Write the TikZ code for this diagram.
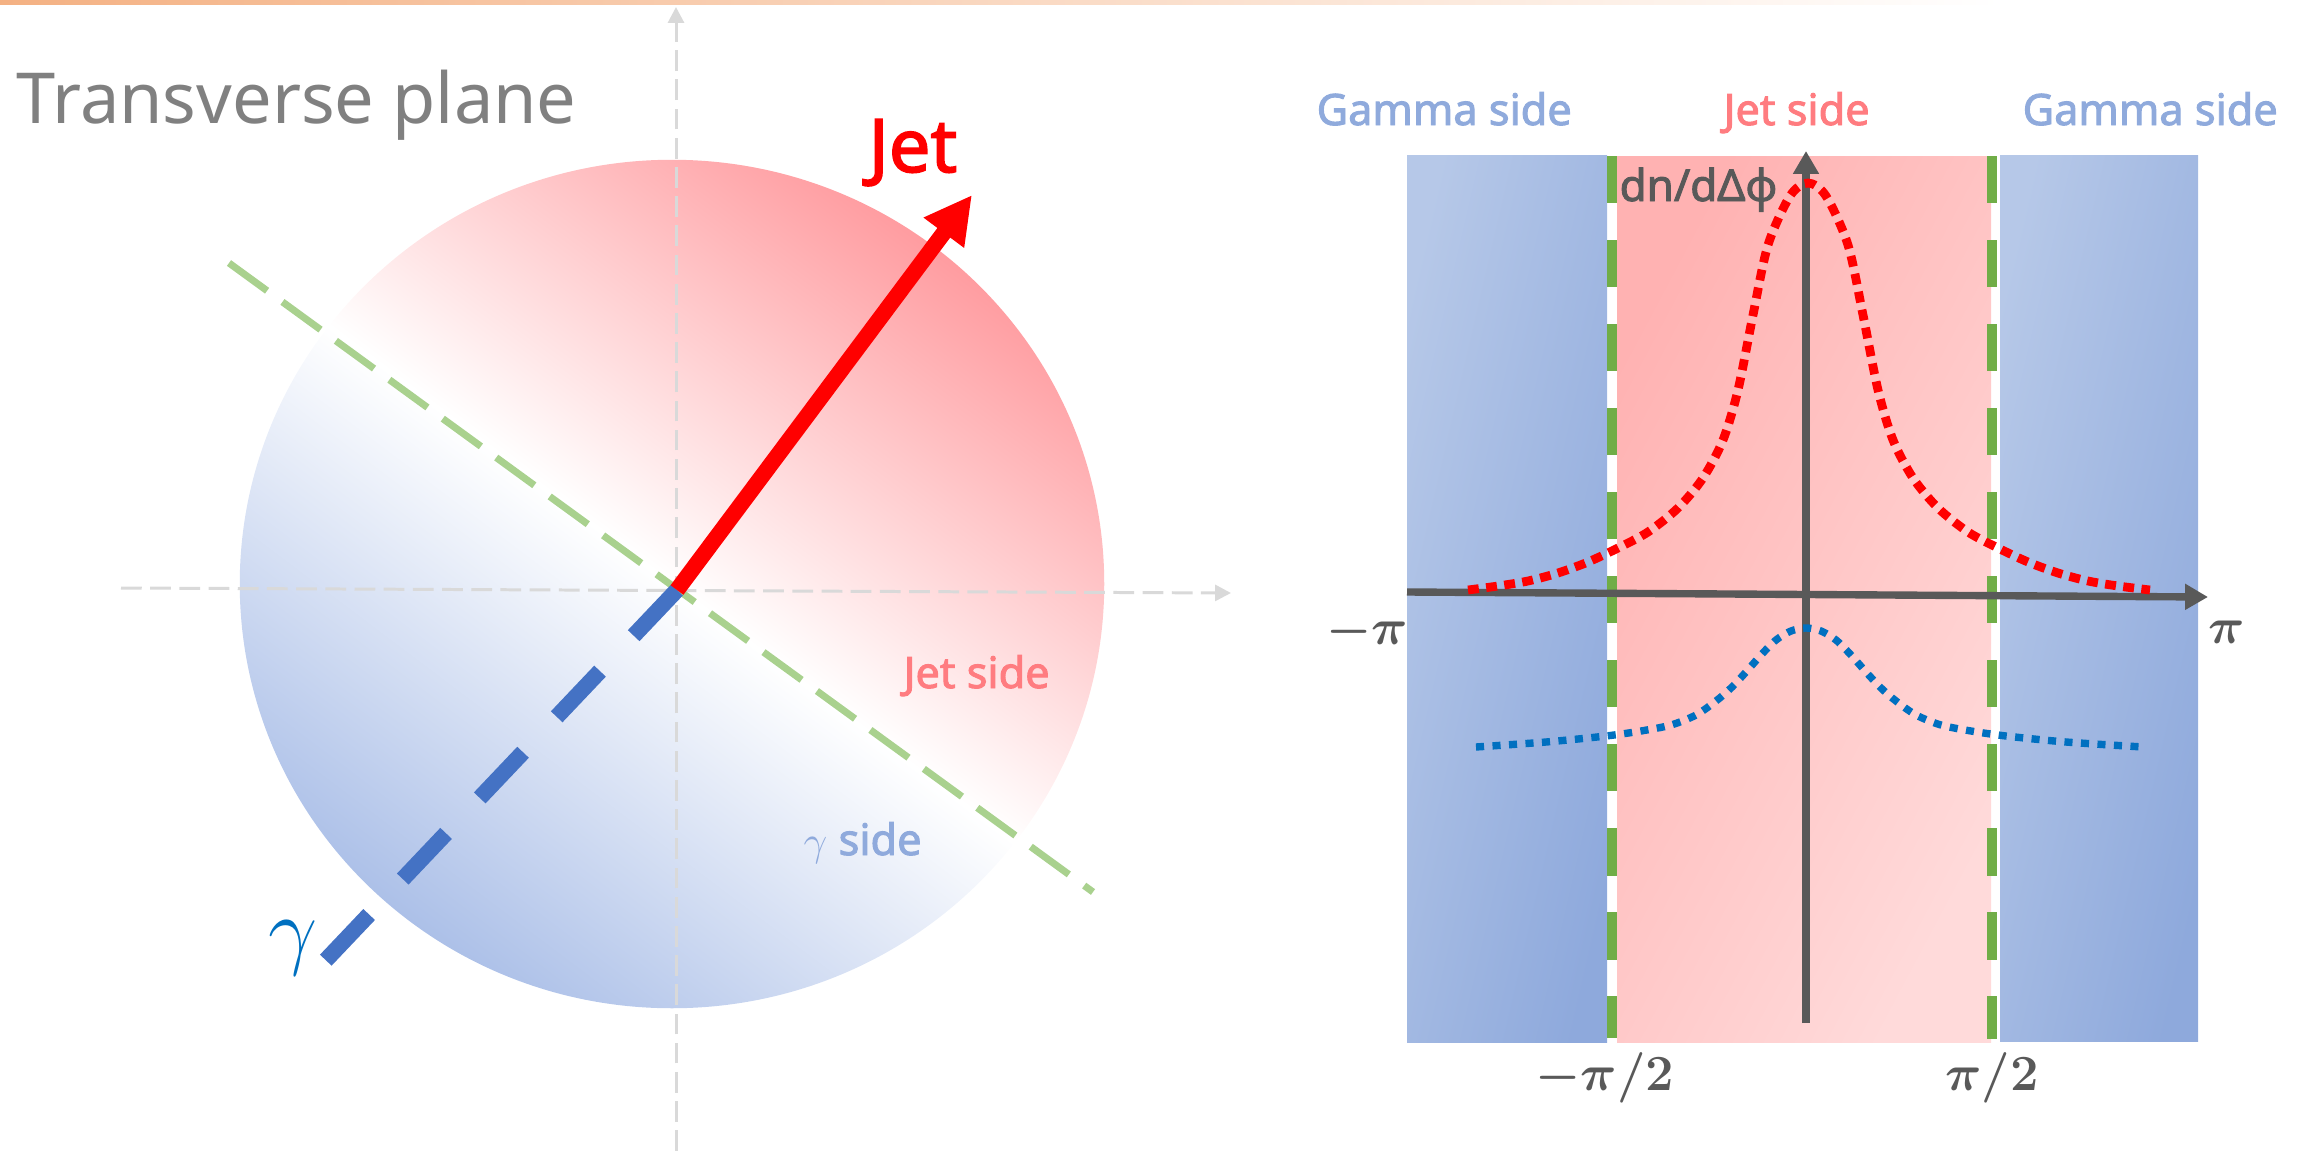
\documentclass[tikz,border=0pt]{standalone}
\usepackage{fontspec}
\setmainfont{Noto Sans}[AutoFakeBold=2.2]
\usepackage{amsmath}
\usetikzlibrary{arrows.meta, calc}
\definecolor{jetred}{RGB}{255,0,0}
\definecolor{jetpink}{RGB}{255,124,128}
\definecolor{jetdisc}{RGB}{255,156,160}
\definecolor{gamdisc}{RGB}{172,192,232}
\definecolor{gamblue}{RGB}{68,114,196}
\definecolor{gamlight}{RGB}{143,170,220}
\definecolor{gamdeep}{RGB}{0,112,192}
\definecolor{axisgray}{RGB}{217,217,217}
\definecolor{darkaxis}{RGB}{89,89,89}
\definecolor{titlegray}{RGB}{128,128,128}
\definecolor{cutgreen}{RGB}{169,209,142}
\definecolor{bandgreen}{RGB}{112,173,71}
\definecolor{topline}{RGB}{244,177,131}
\definecolor{sidebluel}{RGB}{182,200,232}
\definecolor{sidebluer}{RGB}{142,169,220}
\definecolor{jetbandl}{RGB}{255,178,178}
\definecolor{jetbandr}{RGB}{255,218,218}

\begin{document}
\begin{tikzpicture}[
    x=0.01cm, y=-0.01cm,
    txt/.style={inner sep=0pt, anchor=base west},
    title/.style={txt, text=titlegray, font=\fontsize{20}{24}\selectfont},
    side/.style={txt, font=\bfseries\fontsize{12.3}{15}\selectfont},
    pilabel/.style={inner sep=0pt, text=darkaxis, font=\fontsize{14}{17}\selectfont\boldmath},
    faintaxis/.style={draw=axisgray, line width=0.85pt, dash pattern=on 5.9pt off 2.4pt, -{Triangle[length=4.5pt, width=4.5pt]}},
    plotaxis/.style={draw=darkaxis, line width=2.1pt, -{Triangle[length=6.5pt, width=7pt]}},
    jetarrow/.style={draw=jetred, line width=4.55pt, -{Triangle[length=13.4pt, width=13.4pt]}},
    gammaline/.style={draw=gamblue, line width=4.55pt, dash pattern=on 17.9pt off 13.9pt},
    cutline/.style={draw=cutgreen, line width=2pt, dash pattern=on 13.4pt off 5.4pt},
    bandline/.style={draw=bandgreen, line width=3.1pt, dash pattern=on 13.4pt off 10.5pt},
    jetcurve/.style={draw=jetred, line width=2.5pt, dash pattern=on 3.1pt off 2.1pt},
    gamcurve/.style={draw=gamdeep, line width=2.1pt, dash pattern=on 2.3pt off 2.4pt}
]
    \useasboundingbox (0,0) rectangle (2320,1151);
    \shade[left color=topline, right color=white] (0,0) rectangle (2000,4);

    % Transverse plane
    \coordinate (O) at (677,590);
    \shade[bottom color=gamdisc, top color=jetdisc, middle color=white, shading angle=-37]
        (672,584) ellipse [x radius=4.32cm, y radius=4.24cm];

    \coordinate (xl) at (121,588);
    \coordinate (xr) at (1231,593);
    \coordinate (yb) at (676,1151);
    \coordinate (yt) at (676,7);
    \draw[faintaxis] (xl) -- (xr);
    \draw[faintaxis] (yb) -- (yt);

    \coordinate (cutA) at (229,263);
    \coordinate (cutB) at (1093,892);
    \draw[cutline] (cutA) -- (cutB);

    \coordinate (gamend) at (325,961);
    \coordinate (jettip) at (972,195);
    \draw[gammaline] (O) -- (gamend);
    \draw[jetarrow] (O) -- (jettip);

    \node[title] (title) at (16,123) {Transverse plane};
    \node[txt, text=jetred, font=\bfseries\fontsize{21}{24}\selectfont] (jetlab) at (868,172) {Jet};
    \node[side, text=jetpink] (jetside) at (903,688) {Jet side};
    \node[side, text=gamlight] (gamside) at (803,855) {$\gamma$ side};
    \node[txt, text=gamdeep, font=\fontsize{27}{30}\selectfont] (gamlab) at (268,958) {$\gamma$};

    % Delta phi distribution
    \shade[left color=sidebluel, right color=sidebluer, shading angle=77] (1407,155) rectangle (1607,1042);
    \shade[left color=jetbandl, right color=jetbandr, shading angle=62] (1617,156) rectangle (1991,1042);
    \shade[left color=sidebluel, right color=sidebluer, shading angle=77] (2000,155) rectangle (2198,1041);

    \draw[bandline] (1612,156) -- (1612,1038);
    \draw[bandline] (1992,156) -- (1992,1039);

    \coordinate (phil) at (1407,592);
    \coordinate (phir) at (2208,597);
    \coordinate (nb) at (1806,1023);
    \coordinate (nt) at (1806,151);
    \draw[plotaxis] (phil) -- (phir);
    \draw[plotaxis] (nb) -- (nt);

    \draw[jetcurve] plot[smooth] coordinates {(1468,590) (1498,586) (1528,581) (1558,573)
        (1588,562) (1618,548) (1648,532) (1678,508) (1703,478) (1723,440) (1738,390)
        (1753,315) (1768,245) (1790,196) (1808,183) (1826,196) (1848,245) (1863,315)
        (1878,390) (1893,440) (1913,478) (1938,508) (1968,532) (1998,548) (2028,562)
        (2058,573) (2088,581) (2118,586) (2150,590)};
    \draw[gamcurve] plot[smooth] coordinates {(1476,747) (1546,742) (1606,736) (1641,731)
        (1671,725) (1696,715) (1716,701) (1731,688) (1746,672) (1761,655) (1776,640)
        (1791,631) (1806,628) (1821,631) (1836,640) (1851,655) (1866,672) (1881,688)
        (1896,701) (1916,715) (1941,725) (1971,731) (2006,736) (2066,742) (2143,747)};

    \node[txt, text=darkaxis, font=\bfseries\fontsize{12.5}{14}\selectfont] (ylab) at (1619,201) {dn/dΔφ};
    \node[pilabel] (mpi) at (1367,632) {$-\pi$};
    \node[pilabel] (ppi) at (2227,632) {$\pi$};
    \node[pilabel] (mhalf) at (1605,1078) {$-\pi/2$};
    \node[pilabel] (phalf) at (1992,1078) {$\pi/2$};

    \node[side, text=gamlight] (gamtopl) at (1316,125) {Gamma side};
    \node[side, text=jetpink] (jettop) at (1723,125) {Jet side};
    \node[side, text=gamlight] (gamtopr) at (2022,125) {Gamma side};
\end{tikzpicture}
\end{document}
